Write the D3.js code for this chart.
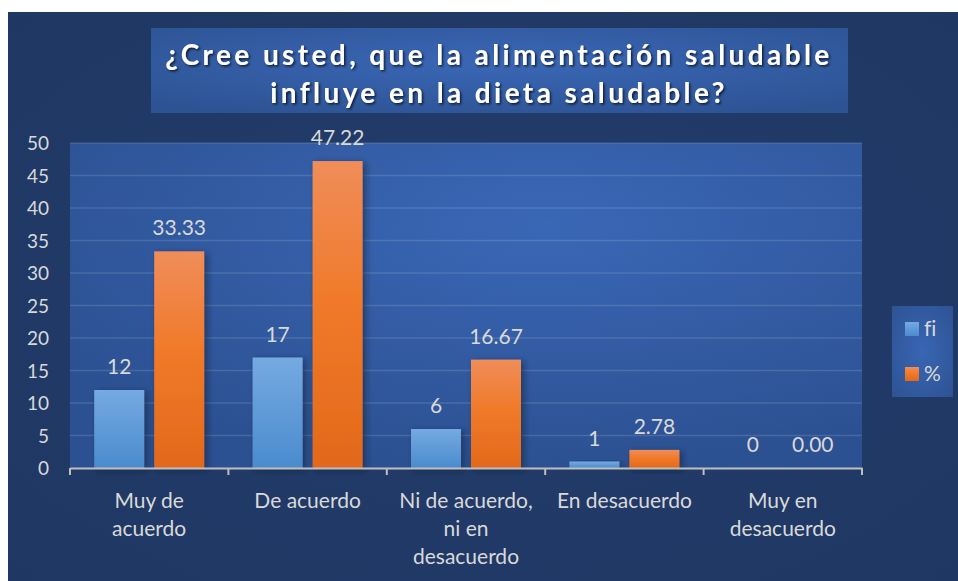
<!DOCTYPE html>
<html>
<head>
<meta charset="utf-8">
<script src="https://cdn.jsdelivr.net/npm/d3@7"></script>
<style>
  body { margin: 0; background: #ffffff; }
  svg { display: block; }
  text { font-variant-ligatures: none; font-feature-settings: "liga" 0; }
</style>
</head>
<body>
<script>
var categories = ["Muy de acuerdo", "De acuerdo", "Ni de acuerdo, ni en desacuerdo", "En desacuerdo", "Muy en desacuerdo"];
var categoryLines = [["Muy de", "acuerdo"], ["De acuerdo"], ["Ni de acuerdo,", "ni en", "desacuerdo"], ["En desacuerdo"], ["Muy en", "desacuerdo"]];
var fi = [12, 17, 6, 1, 0];
var pct = [33.33, 47.22, 16.67, 2.78, 0.00];
var seriesNames = ["fi", "%"];
var yTicks = [0, 5, 10, 15, 20, 25, 30, 35, 40, 45, 50];
var titleLines = ["¿Cree usted, que la alimentación saludable", "influye en la dieta saludable?"];

var w = 958, h = 581;
var font = "Lato, 'Open Sans', sans-serif";
var textCol = "#d9d9d9";

var svg = d3.select("body").append("svg")
    .attr("width", w)
    .attr("height", h);

var defs = svg.append("defs");

var bgGrad = defs.append("radialGradient").attr("id", "bgGrad")
    .attr("cx", "50%").attr("cy", "50%").attr("r", "70%");
bgGrad.append("stop").attr("offset", "0%").attr("stop-color", "#233d6b");
bgGrad.append("stop").attr("offset", "100%").attr("stop-color", "#1f3763");

var plotGrad = defs.append("radialGradient").attr("id", "plotGrad")
    .attr("cx", "60%").attr("cy", "25%").attr("r", "75%");
plotGrad.append("stop").attr("offset", "0%").attr("stop-color", "#3a67b6");
plotGrad.append("stop").attr("offset", "100%").attr("stop-color", "#2c5192");

var titleGrad = defs.append("radialGradient").attr("id", "titleGrad")
    .attr("cx", "50%").attr("cy", "40%").attr("r", "70%");
titleGrad.append("stop").attr("offset", "0%").attr("stop-color", "#3a67b6");
titleGrad.append("stop").attr("offset", "100%").attr("stop-color", "#2d5393");

var legGrad = defs.append("radialGradient").attr("id", "legGrad")
    .attr("cx", "50%").attr("cy", "50%").attr("r", "70%");
legGrad.append("stop").attr("offset", "0%").attr("stop-color", "#3965b3");
legGrad.append("stop").attr("offset", "100%").attr("stop-color", "#2d5393");

var blueGrad = defs.append("linearGradient").attr("id", "blueGrad")
    .attr("x1", 0).attr("y1", 0).attr("x2", 0).attr("y2", 1);
blueGrad.append("stop").attr("offset", "0%").attr("stop-color", "#75aae1");
blueGrad.append("stop").attr("offset", "100%").attr("stop-color", "#4a8bce");

var orangeGrad = defs.append("linearGradient").attr("id", "orangeGrad")
    .attr("x1", 0).attr("y1", 0).attr("x2", 0).attr("y2", 1);
orangeGrad.append("stop").attr("offset", "0%").attr("stop-color", "#f08d5a");
orangeGrad.append("stop").attr("offset", "45%").attr("stop-color", "#f07a2a");
orangeGrad.append("stop").attr("offset", "100%").attr("stop-color", "#e2691a");

var shadow = defs.append("filter").attr("id", "shadow")
    .attr("x", "-20%").attr("y", "-20%").attr("width", "150%").attr("height", "150%");
shadow.append("feDropShadow").attr("dx", 3).attr("dy", 2).attr("stdDeviation", 3)
    .attr("flood-color", "#0b1a33").attr("flood-opacity", 0.55);

var textShadow = defs.append("filter").attr("id", "textShadow")
    .attr("x", "-10%").attr("y", "-30%").attr("width", "120%").attr("height", "160%");
textShadow.append("feDropShadow").attr("dx", 1.5).attr("dy", 1.5).attr("stdDeviation", 1.2)
    .attr("flood-color", "#000000").attr("flood-opacity", 0.7);

// chart background
svg.append("rect")
    .attr("x", 8).attr("y", 12)
    .attr("width", w - 8).attr("height", h - 12)
    .attr("fill", "url(#bgGrad)");

// title box
svg.append("rect")
    .attr("x", 151).attr("y", 28)
    .attr("width", 697).attr("height", 85)
    .attr("fill", "url(#titleGrad)");

svg.selectAll("text.title")
    .data(titleLines)
    .enter()
    .append("text")
    .attr("class", "title")
    .text(function(d) { return d; })
    .attr("x", 499)
    .attr("y", function(d, i) { return 65 + i * 38; })
    .attr("text-anchor", "middle")
    .attr("font-family", font)
    .attr("font-weight", "bold")
    .attr("font-size", "28px")
    .attr("letter-spacing", "3.4px")
    .attr("fill", "#ffffff")
    .attr("filter", "url(#textShadow)");

// plot area
var margin = { left: 70, right: 862, top: 143, bottom: 468 };

svg.append("rect")
    .attr("x", margin.left).attr("y", margin.top)
    .attr("width", margin.right - margin.left)
    .attr("height", margin.bottom - margin.top)
    .attr("fill", "url(#plotGrad)");

var x = d3.scaleBand()
    .domain(categories)
    .range([margin.left, margin.right]);

var y = d3.scaleLinear()
    .domain([0, 50])
    .range([margin.bottom, margin.top]);

// gridlines
svg.selectAll("line.grid")
    .data(yTicks.filter(function(d) { return d > 0; }))
    .enter()
    .append("line")
    .attr("class", "grid")
    .attr("x1", margin.left).attr("x2", margin.right)
    .attr("y1", function(d) { return y(d); })
    .attr("y2", function(d) { return y(d); })
    .attr("stroke", "#ffffff")
    .attr("stroke-opacity", 0.13)
    .attr("stroke-width", 1.5);

// y axis labels
var yAxis = d3.axisLeft(y).tickValues(yTicks).tickSize(0).tickPadding(0);
var yG = svg.append("g")
    .attr("transform", "translate(49,0)")
    .call(yAxis);
yG.select(".domain").remove();
yG.selectAll("text")
    .attr("font-family", font)
    .attr("font-size", "19px")
    .attr("fill", textCol)
    .attr("dy", "0.35em");

// bars
var barW = 50, gap = 10;
var seriesData = [fi, pct];
var fills = ["url(#blueGrad)", "url(#orangeGrad)"];
var labelFmt = [function(v) { return d3.format("d")(v); }, function(v) { return d3.format(".2f")(v); }];

seriesData.forEach(function(vals, s) {
    var off = s === 0 ? -(barW + gap / 2) : gap / 2;
    var g = svg.append("g");
    g.selectAll("rect")
        .data(vals)
        .enter()
        .append("rect")
        .attr("x", function(d, i) { return x(categories[i]) + x.bandwidth() / 2 + off; })
        .attr("y", function(d) { return y(d); })
        .attr("width", barW)
        .attr("height", function(d) { return y(0) - y(d); })
        .attr("fill", fills[s])
        .attr("filter", "url(#shadow)");

    g.selectAll("text")
        .data(vals)
        .enter()
        .append("text")
        .text(function(d) { return labelFmt[s](d); })
        .attr("x", function(d, i) { return x(categories[i]) + x.bandwidth() / 2 + off + barW / 2; })
        .attr("y", function(d) { return y(d) - 16; })
        .attr("text-anchor", "middle")
        .attr("font-family", font)
        .attr("font-size", "21px")
        .attr("fill", textCol);
});

// x axis
var xAxis = d3.axisBottom(x).tickSize(0).tickFormat("");
var xG = svg.append("g")
    .attr("transform", "translate(0," + margin.bottom + ")")
    .call(xAxis);
xG.select(".domain").attr("stroke", "#bfbfbf").attr("stroke-width", 2);

var tickPos = categories.map(function(c) { return x(c); }).concat([margin.right]);
svg.selectAll("line.xtick")
    .data(tickPos)
    .enter()
    .append("line")
    .attr("class", "xtick")
    .attr("x1", function(d) { return d; }).attr("x2", function(d) { return d; })
    .attr("y1", margin.bottom).attr("y2", margin.bottom + 7)
    .attr("stroke", "#bfbfbf")
    .attr("stroke-width", 2);

categoryLines.forEach(function(lines, i) {
    svg.append("text")
        .attr("text-anchor", "middle")
        .attr("font-family", font)
        .attr("font-size", "21px")
        .attr("fill", textCol)
        .selectAll("tspan")
        .data(lines)
        .enter()
        .append("tspan")
        .attr("x", x(categories[i]) + x.bandwidth() / 2)
        .attr("y", function(d, j) { return 508 + j * 28; })
        .text(function(d) { return d; });
});

// legend
svg.append("rect")
    .attr("x", 892).attr("y", 306)
    .attr("width", 61).attr("height", 91)
    .attr("fill", "url(#legGrad)");

var leg = svg.selectAll("g.leg")
    .data(seriesNames)
    .enter()
    .append("g")
    .attr("class", "leg")
    .attr("transform", function(d, i) { return "translate(905," + (322 + i * 45) + ")"; });
leg.append("rect")
    .attr("width", 14).attr("height", 14)
    .attr("fill", function(d, i) { return fills[i]; });
leg.append("text")
    .text(function(d) { return d; })
    .attr("x", 19).attr("y", 14)
    .attr("font-family", font)
    .attr("font-size", "21px")
    .attr("fill", textCol);
</script>
</body>
</html>
